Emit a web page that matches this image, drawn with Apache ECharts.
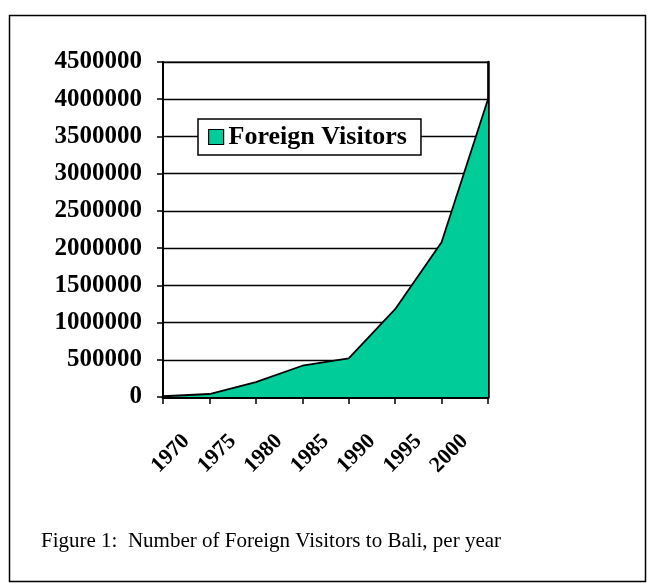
<!DOCTYPE html>
<html>
<head>
<meta charset="utf-8">
<script src="https://cdn.jsdelivr.net/npm/echarts@6/dist/echarts.min.js"></script>
<style>
  html, body { margin: 0; padding: 0; background: #fff; }
  #chart { width: 650px; height: 586px; }
</style>
</head>
<body>
<div id="chart"></div>
<script>
// Data points (8 vertices on tick marks)
const pointKeys = ['p1970', 'p1975', 'p1980', 'p1985', 'p1990', 'p1995', 'p2000', 'pEnd'];
const visitors = [10000, 40000, 200000, 420000, 520000, 1180000, 2080000, 4000000];
// Category tick labels (shown between tick marks)
const yearLabels = ['1970', '1975', '1980', '1985', '1990', '1995', '2000'];
const seriesName = 'Foreign Visitors';
const captionText = 'Figure 1:  Number of Foreign Visitors to Bali, per year';

const serif = '"Liberation Serif", "Times New Roman", serif';
const chart = echarts.init(document.getElementById('chart'), null, { renderer: 'canvas' });

chart.setOption({
  backgroundColor: '#ffffff',
  animation: false,
  grid: {
    left: 163, top: 62, width: 325, height: 335,
    show: true, borderColor: '#000', borderWidth: 1, backgroundColor: 'transparent'
  },
  legend: {
    data: [{ name: seriesName, icon: 'rect' }],
    left: 198, top: 119,
    padding: [5, 14, 5, 10],
    itemWidth: 15, itemHeight: 15, itemGap: 8,
    backgroundColor: '#fff',
    borderColor: '#000', borderWidth: 1.5,
    itemStyle: { color: '#00CC99', borderColor: '#000', borderWidth: 1.2 },
    textStyle: { fontFamily: serif, fontWeight: 'bold', fontSize: 26, color: '#000' }
  },
  xAxis: [
    {
      type: 'category', data: pointKeys, boundaryGap: false,
      axisLine: { lineStyle: { color: '#000', width: 3 } },
      axisTick: { show: true, length: 7, lineStyle: { color: '#000', width: 1.5 } },
      axisLabel: { show: false },
      splitLine: { show: false }
    },
    {
      type: 'category', data: yearLabels, boundaryGap: true, position: 'bottom',
      axisLine: { show: false }, axisTick: { show: false }, splitLine: { show: false },
      axisLabel: {
        rotate: 45, margin: 41, interval: 0,
        fontFamily: serif, fontWeight: 'bold', fontSize: 22, color: '#000'
      }
    }
  ],
  yAxis: [
    {
      type: 'value', min: 0, max: 4500000, interval: 500000,
      axisLine: { show: true, lineStyle: { color: '#000', width: 2 } },
      axisTick: { show: true, length: 6, lineStyle: { color: '#000', width: 1.5 } },
      axisLabel: {
        margin: 21, fontFamily: serif, fontWeight: 'bold', fontSize: 25, color: '#000',
        formatter: function (v) { return String(v); }
      },
      splitLine: { show: true, lineStyle: { color: '#000', width: 1.4 } }
    },
    {
      type: 'value', min: 0, max: 4500000, interval: 500000, position: 'right',
      axisLine: { show: true, lineStyle: { color: '#000', width: 2.5 } },
      axisTick: { show: false }, axisLabel: { show: false }, splitLine: { show: false }
    }
  ],
  series: [{
    name: seriesName,
    type: 'line',
    data: visitors,
    xAxisIndex: 0, yAxisIndex: 0,
    symbol: 'none',
    lineStyle: { color: '#000', width: 1.8 },
    itemStyle: { color: '#00CC99' },
    areaStyle: { color: '#00CC99', opacity: 1 },
    z: 3
  }],
  graphic: [
    {
      type: 'rect', left: 7, top: 13, z: -1,
      shape: { width: 636, height: 566 },
      style: { fill: 'none', stroke: '#000', lineWidth: 1.5 }
    },
    {
      type: 'text', left: 41, top: 531,
      style: { text: captionText, font: '21px ' + serif, fill: '#000' }
    }
  ]
});
</script>
</body>
</html>
